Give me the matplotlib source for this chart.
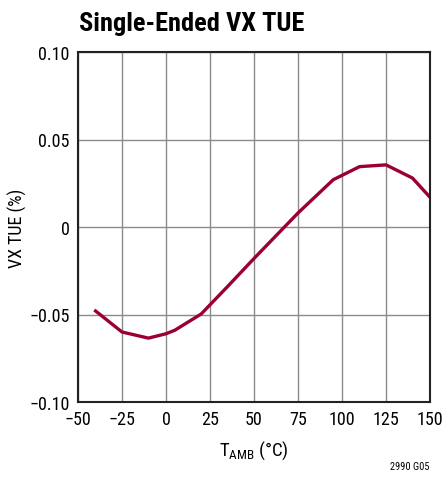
import matplotlib.pyplot as plt
from matplotlib import font_manager

# pick a condensed sans close to Helvetica Condensed
names = {f.name for f in font_manager.fontManager.ttflist}
narrow = 'DejaVu Sans'
for cand in ['Roboto Condensed', 'Archivo Narrow', 'PT Sans Narrow', 'Barlow Semi Condensed']:
    if cand in names:
        narrow = cand
        break
plt.rcParams['font.family'] = [narrow, 'DejaVu Sans']
plt.rcParams['mathtext.fontset'] = 'custom'
plt.rcParams['mathtext.rm'] = narrow

# data
temp = [-40, -25, -10, 0, 5, 20, 35, 50, 75, 95, 110, 125, 140, 150]
tue = [-0.048, -0.060, -0.0635, -0.061, -0.059, -0.0497, -0.034, -0.018,
       0.008, 0.027, 0.0345, 0.0355, 0.028, 0.017]

x_ticks = [-50, -25, 0, 25, 50, 75, 100, 125, 150]
x_labels = ['\u221250', '\u221225', '0', '25', '50', '75', '100', '125', '150']
y_ticks = [-0.10, -0.05, 0, 0.05, 0.10]
y_labels = ['\u22120.10', '\u22120.05', '0', '0.05', '0.10']

fig = plt.figure(figsize=(4.46, 4.89), dpi=100)
ax = fig.add_axes([78 / 446, 1 - 403 / 489, 352 / 446, 350 / 489])

ax.plot(temp, tue, color='#9b0034', linewidth=2.4, solid_joinstyle='round')

ax.set_xlim(-50, 150)
ax.set_ylim(-0.10, 0.10)
ax.set_xticks(x_ticks)
ax.set_xticklabels(x_labels)
ax.set_yticks(y_ticks)
ax.set_yticklabels(y_labels)
ax.tick_params(length=0, labelsize=13, pad=6)
ax.grid(color='#8a8a8a', linewidth=1)
for s in ax.spines.values():
    s.set_linewidth(1.5)
    s.set_color('#222222')

ax.set_xlabel('T$_{\\mathrm{AMB}}$ (\u00b0C)', fontsize=13.5, labelpad=7)
ax.set_ylabel('VX TUE (%)', fontsize=13, labelpad=2)

fig.text(79 / 446, 1 - 31 / 489, 'Single-Ended VX TUE', fontsize=19,
         fontweight='bold', ha='left', va='baseline')
fig.text(430 / 446, 1 - 470 / 489, '2990 G05', fontsize=7.5,
         ha='right', va='baseline')

fig.savefig('out.png', dpi=100)
